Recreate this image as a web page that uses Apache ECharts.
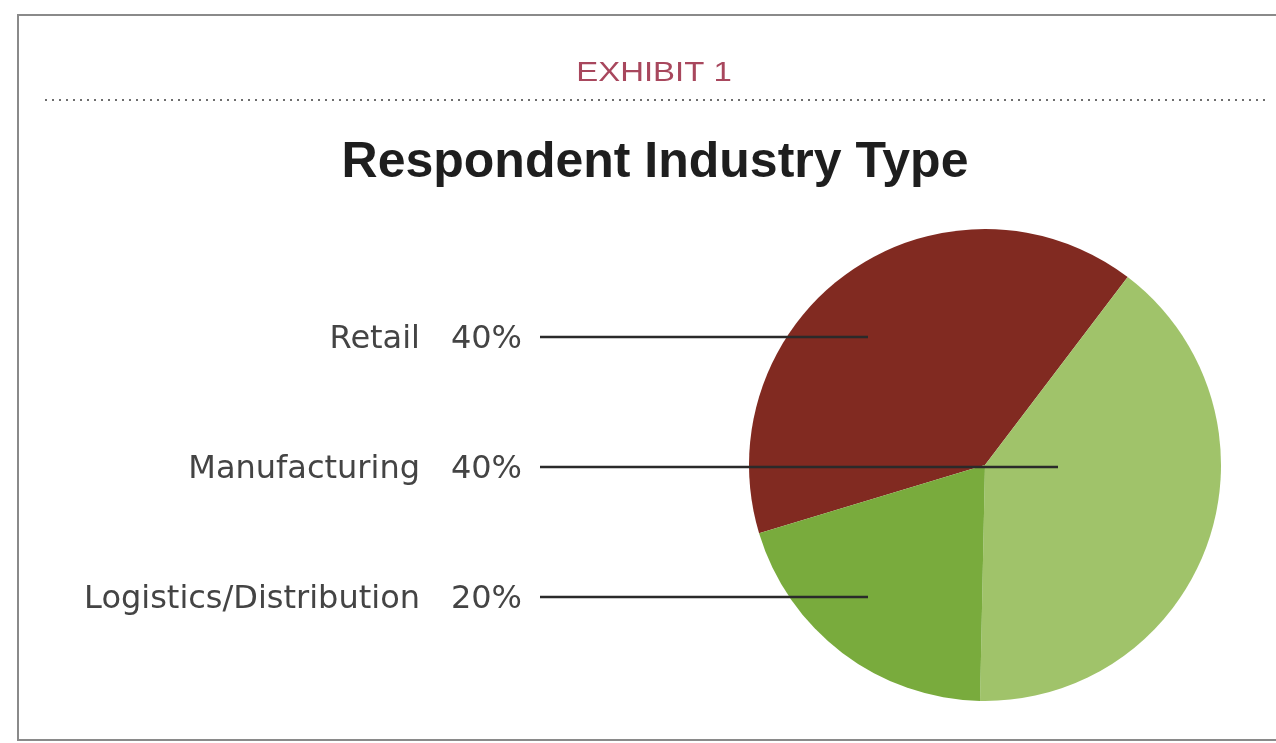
<!DOCTYPE html>
<html>
<head>
<meta charset="utf-8">
<style>
html,body{margin:0;padding:0;background:#fff;}
#chart{width:1276px;height:743px;}
</style>
<script src="https://cdn.jsdelivr.net/npm/echarts@6/dist/echarts.min.js"></script>
</head>
<body>
<div id="chart"></div>
<script>
// ---- data ----
var categories = ['Retail', 'Manufacturing', 'Logistics/Distribution'];
var values = [40, 40, 20];
var colors = ['#812a21', '#a0c36a', '#79ab3d'];
var exhibitLabel = 'EXHIBIT 1';
var titleText = 'Respondent Industry Type';

// ---- layout (positions only) ----
var pieCenter = [985, 465];
var pieRadius = 236;
var labelRows = [337, 467, 597];       // y of leader lines
var lineEnds = [868, 1058, 868];       // x where leader lines end
var nameRight = 420, pctRight = 522, lineStart = 540;

var chart = echarts.init(document.getElementById('chart'), null, {renderer: 'canvas'});

var graphics = [
  {type: 'rect', shape: {x: 18, y: 15, width: 1300, height: 725},
   style: {fill: 'none', stroke: '#8a8a8a', lineWidth: 2}, z: 1},
  {type: 'line', shape: {x1: 45, y1: 100, x2: 1266, y2: 100},
   style: {stroke: '#6e6e6e', lineWidth: 2, lineDash: [2, 5]}, z: 1},
  {type: 'text', x: 654, y: 74, scaleX: 1.22,
   style: {text: exhibitLabel, fill: '#a8475d', font: '27px "Liberation Sans", Arial, sans-serif',
           align: 'center', verticalAlign: 'middle'}, z: 5},
  {type: 'text', x: 655, y: 163,
   style: {text: titleText, fill: '#1e1e1e', font: 'bold 50px "Liberation Sans", Arial, sans-serif',
           align: 'center', verticalAlign: 'middle'}, z: 5}
];

categories.forEach(function (name, i) {
  var y = labelRows[i];
  graphics.push({type: 'text', x: nameRight, y: y + 3,
    style: {text: name, fill: '#444', font: '32px "DejaVu Sans", sans-serif',
            align: 'right', verticalAlign: 'middle'}, z: 5});
  graphics.push({type: 'text', x: pctRight, y: y + 3,
    style: {text: values[i] + '%', fill: '#444', font: '32px "DejaVu Sans", sans-serif',
            align: 'right', verticalAlign: 'middle'}, z: 5});
  graphics.push({type: 'line', shape: {x1: lineStart, y1: y, x2: lineEnds[i], y2: y},
    style: {stroke: '#2a2a2a', lineWidth: 2.4}, z: 10});
});

chart.setOption({
  animation: false,
  backgroundColor: '#ffffff',
  series: [{
    type: 'pie',
    center: pieCenter,
    radius: pieRadius,
    startAngle: 196.8,
    clockwise: true,
    silent: true,
    label: {show: false},
    labelLine: {show: false},
    itemStyle: {borderWidth: 0},
    z: 2,
    data: categories.map(function (c, i) {
      return {name: c, value: values[i], itemStyle: {color: colors[i]}};
    })
  }],
  graphic: {elements: graphics}
});
</script>
</body>
</html>
